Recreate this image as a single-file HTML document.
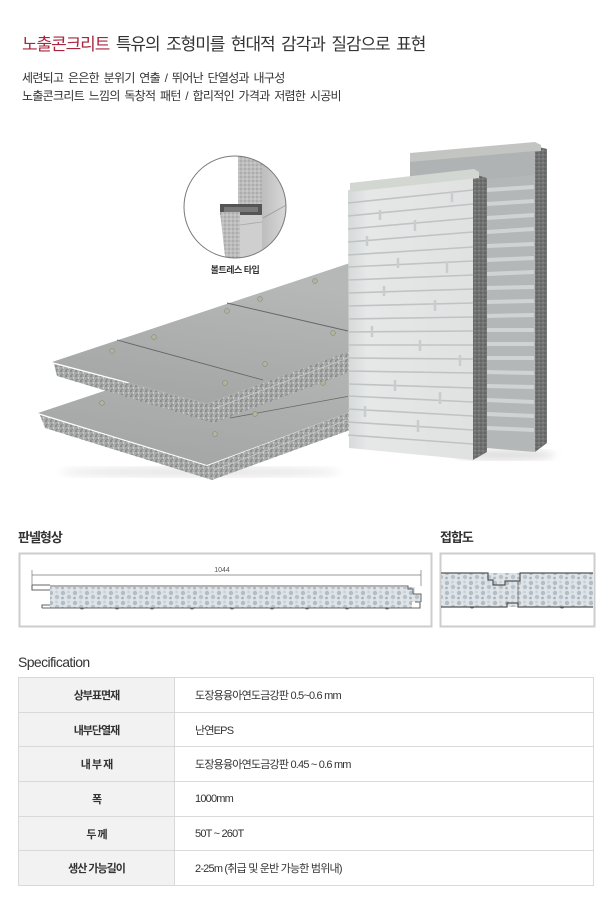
<!DOCTYPE html>
<html><head><meta charset="utf-8">
<style>
*{margin:0;padding:0;box-sizing:border-box}
html,body{width:610px;height:914px;background:#fff;overflow:hidden}
body{position:relative;font-family:"Liberation Sans","Noto Sans CJK KR",sans-serif;color:#333}
.t{position:absolute;white-space:nowrap}
#title{left:22px;top:34px;font-size:17px;line-height:22px;letter-spacing:-1.1px;word-spacing:3px;color:#333}
#title span{color:#a8253e}
.sub{left:22px;font-size:12px;line-height:18px;letter-spacing:-0.7px;word-spacing:2px;color:#333}
.h2{font-size:13px;line-height:16px;letter-spacing:-1px;font-weight:bold;color:#333}
#spec{left:18px;top:653px;font-size:14px;line-height:18px;letter-spacing:-0.6px;color:#333}
table{position:absolute;left:18px;top:677px;width:576px;border-collapse:collapse;font-size:11px;letter-spacing:-0.8px}
td{height:34.7px;border:1px solid #d9d9d9;color:#333}
td.l{width:156px;background:#f2f2f2;text-align:center;font-weight:bold;letter-spacing:-1px}
td.v{padding-left:20px}
svg{position:absolute;left:0;top:0}
</style></head><body>
<svg width="610" height="914" viewBox="0 0 610 914">
<defs>
<pattern id="fm" width="5" height="5" patternUnits="userSpaceOnUse"><rect width="5" height="5" fill="#a8aaaa"/><circle cx="1" cy="1" r="0.8" fill="#6a6d6d"/><circle cx="3.5" cy="3" r="0.7" fill="#dcdede"/><circle cx="2" cy="4.2" r="0.5" fill="#585a5a"/><circle cx="4.2" cy="0.8" r="0.5" fill="#c8caca"/></pattern>
<pattern id="fd" width="4" height="4" patternUnits="userSpaceOnUse"><rect width="4" height="4" fill="#707272"/><circle cx="1" cy="1" r="0.6" fill="#4a4c4c"/><circle cx="3" cy="2.8" r="0.6" fill="#a0a2a2"/></pattern>
<pattern id="fl" width="4" height="4" patternUnits="userSpaceOnUse"><rect width="4" height="4" fill="#bcbcbc"/><circle cx="1" cy="1" r="0.6" fill="#888"/><circle cx="3" cy="3" r="0.6" fill="#e4e4e4"/></pattern>
<pattern id="eps" width="12" height="10" patternUnits="userSpaceOnUse"><rect width="12" height="10" fill="#dfe4e8"/><circle cx="3" cy="3" r="2.2" fill="#b2bdc6"/><circle cx="9" cy="7" r="2.2" fill="#b8c2ca"/><circle cx="8.5" cy="2" r="1.4" fill="#c9d0d6"/><circle cx="2.5" cy="8" r="1.4" fill="#a9b4bd"/></pattern>
<linearGradient id="ts" x1="0" y1="1" x2="0.3" y2="0"><stop offset="0" stop-color="#a2a4a4"/><stop offset="1" stop-color="#b6b8b8"/></linearGradient>
<linearGradient id="mt" x1="0" y1="0" x2="1" y2="0"><stop offset="0" stop-color="#bdbdbd"/><stop offset="1" stop-color="#e2e2e2"/></linearGradient>
<linearGradient id="fp" x1="0" y1="0" x2="1" y2="0"><stop offset="0" stop-color="#d6d9d9"/><stop offset="0.15" stop-color="#e6e8e8"/><stop offset="1" stop-color="#e0e2e2"/></linearGradient>
<clipPath id="cc"><circle cx="235" cy="207" r="51"/></clipPath>
<filter id="bl"><feGaussianBlur stdDeviation="4"/></filter>
</defs>

<!-- shadows -->
<ellipse cx="200" cy="472" rx="140" ry="5" fill="#e6e6e6" filter="url(#bl)"/>
<ellipse cx="505" cy="455" rx="50" ry="5" fill="#dcdcdc" filter="url(#bl)"/>

<!-- lower slab -->
<polygon points="38,413 207,465 350,412 350,309" fill="url(#ts)"/>
<polygon points="40,415 207,466 212,480 45,428" fill="url(#fm)"/>
<polygon points="207,466 350,412 350,430 212,480" fill="url(#fm)"/>
<line x1="214" y1="470" x2="350" y2="419" stroke="#c8caca" stroke-width="0.8"/>
<line x1="230" y1="418" x2="350" y2="396" stroke="#666" stroke-width="0.8"/>
<g fill="#b4b496" stroke="#888" stroke-width="0.6"><circle cx="102" cy="403" r="2.4"/><circle cx="255" cy="414" r="2.4"/><circle cx="215" cy="434" r="2.4"/><circle cx="323" cy="383" r="2.4"/></g>

<!-- top slab -->
<polygon points="52,362 207,403 350,351 350,263" fill="url(#ts)"/>
<polygon points="54,364 207,404 213,423 57,376" fill="url(#fm)"/>
<polygon points="207,404 350,351 350,372 213,423" fill="url(#fm)"/>
<line x1="213" y1="409" x2="350" y2="357" stroke="#c8caca" stroke-width="0.8"/>
<line x1="117" y1="340" x2="263" y2="380" stroke="#666" stroke-width="0.9"/>
<line x1="227" y1="303" x2="348" y2="331" stroke="#666" stroke-width="0.9"/>
<g fill="#b4b496" stroke="#888" stroke-width="0.6"><circle cx="112" cy="351" r="2.4"/><circle cx="154" cy="337" r="2.4"/><circle cx="227" cy="311" r="2.4"/><circle cx="260" cy="299" r="2.4"/><circle cx="315" cy="281" r="2.4"/><circle cx="265" cy="364" r="2.4"/><circle cx="225" cy="383" r="2.4"/><circle cx="333" cy="333" r="2.4"/></g>

<!-- back vertical panel -->
<polygon points="410,157 535,146 535,452 410,442" fill="#b4b7b7"/>
<polygon points="535,146 547,149 547,443 535,452" fill="url(#fd)"/>
<polygon points="410,153 535,142 541,145 541,151 410,162" fill="#c2c5c2"/>
<g stroke="#d0d3d3" stroke-width="4">
<line x1="487" y1="190" x2="534" y2="187"/><line x1="487" y1="204" x2="534" y2="201"/><line x1="487" y1="218" x2="534" y2="215"/><line x1="487" y1="232" x2="534" y2="229"/><line x1="487" y1="246" x2="534" y2="244"/><line x1="487" y1="260" x2="534" y2="258"/><line x1="487" y1="274" x2="534" y2="272"/><line x1="487" y1="288" x2="534" y2="287"/><line x1="487" y1="302" x2="534" y2="301"/><line x1="487" y1="316" x2="534" y2="315"/><line x1="487" y1="330" x2="534" y2="330"/><line x1="487" y1="344" x2="534" y2="344"/><line x1="487" y1="358" x2="534" y2="358"/><line x1="487" y1="372" x2="534" y2="373"/><line x1="487" y1="386" x2="534" y2="387"/><line x1="487" y1="400" x2="534" y2="402"/><line x1="487" y1="414" x2="534" y2="416"/><line x1="487" y1="428" x2="534" y2="430"/>
</g>
<polygon points="410,162 535,151 535,175 410,186" fill="#b0b3b3"/>

<!-- front vertical panel -->
<polygon points="348,190 473,176 473,460 349,448" fill="url(#fp)"/>
<polygon points="473,174 487,178 487,452 473,460" fill="url(#fd)"/>
<polygon points="350,183 474,169 479,172 479,178 350,192" fill="#d3d7d2"/>
<g stroke="#bfc3c3" stroke-width="1.6">
<line x1="348" y1="203" x2="473" y2="190"/><line x1="348" y1="216" x2="473" y2="204"/><line x1="348" y1="229" x2="473" y2="218"/><line x1="348" y1="242" x2="473" y2="232"/><line x1="348" y1="255" x2="473" y2="247"/><line x1="348" y1="267" x2="473" y2="261"/><line x1="348" y1="280" x2="473" y2="275"/><line x1="348" y1="293" x2="473" y2="289"/><line x1="348" y1="306" x2="473" y2="303"/><line x1="348" y1="319" x2="473" y2="317"/><line x1="348" y1="332" x2="473" y2="331"/><line x1="348" y1="345" x2="473" y2="345"/><line x1="348" y1="358" x2="473" y2="359"/><line x1="348" y1="371" x2="473" y2="373"/><line x1="348" y1="384" x2="473" y2="388"/><line x1="348" y1="396" x2="473" y2="402"/><line x1="348" y1="409" x2="473" y2="416"/><line x1="348" y1="422" x2="473" y2="430"/><line x1="348" y1="435" x2="473" y2="444"/>
</g>
<g stroke="#c8cccc" stroke-width="2.5">
<line x1="452" y1="192" x2="452" y2="202"/><line x1="380" y1="210" x2="380" y2="220"/><line x1="415" y1="220" x2="415" y2="231"/><line x1="367" y1="236" x2="367" y2="246"/><line x1="398" y1="258" x2="398" y2="268"/><line x1="447" y1="262" x2="447" y2="273"/><line x1="384" y1="286" x2="384" y2="296"/><line x1="435" y1="300" x2="435" y2="311"/><line x1="372" y1="326" x2="372" y2="337"/><line x1="420" y1="340" x2="420" y2="351"/><line x1="460" y1="355" x2="460" y2="366"/><line x1="395" y1="380" x2="395" y2="391"/><line x1="440" y1="392" x2="440" y2="404"/><line x1="365" y1="406" x2="365" y2="417"/><line x1="418" y1="420" x2="418" y2="432"/></g>

<!-- circle inset -->
<circle cx="235" cy="207" r="51" fill="#fff"/>
<g clip-path="url(#cc)">
<rect x="238" y="150" width="24" height="55" fill="url(#fl)"/>
<polygon points="262,150 295,150 295,265 262,265" fill="url(#mt)"/>
<line x1="263" y1="218" x2="290" y2="203" stroke="#999" stroke-width="0.8"/>
<rect x="240" y="215" width="22" height="50" fill="#cfcfcf"/>
<line x1="240" y1="225" x2="262" y2="222" stroke="#a8a8a8" stroke-width="0.8"/>
<rect x="220" y="204" width="42" height="11" fill="#555"/>
<rect x="224" y="207" width="34" height="5" fill="#7a7a7a"/>
<polygon points="220,212 240,212 240,265 226,265" fill="url(#fl)"/>
</g>
<circle cx="235" cy="207" r="51" fill="none" stroke="#7a7a7a" stroke-width="1"/>
<text x="235" y="273" text-anchor="middle" font-family="Liberation Sans,Noto Sans CJK KR,sans-serif" font-size="9" font-weight="bold" fill="#333" letter-spacing="-0.5">볼트레스 타입</text>

<!-- panel shape box -->
<rect x="19.5" y="553.5" width="412" height="73" fill="#fff" stroke="#cdcdcd" stroke-width="2"/>
<line x1="32" y1="575" x2="421" y2="575" stroke="#777" stroke-width="0.7"/>
<line x1="32" y1="570" x2="32" y2="586" stroke="#777" stroke-width="0.7"/>
<line x1="421" y1="570" x2="421" y2="586" stroke="#777" stroke-width="0.7"/>
<text x="222" y="572" text-anchor="middle" font-family="Liberation Sans,sans-serif" font-size="7" fill="#555">1044</text>
<rect x="50" y="587" width="360" height="21" fill="url(#eps)"/>
<polygon points="410,587 415,587 415,594 421,594 421,602 412,602 412,608 410,608" fill="url(#eps)"/>
<path d="M32,585 H50 M32,585 V590 H50 M50,586 H408 V589 H413 V594 M408,586" stroke="#666" stroke-width="1.1" fill="none"/>
<path d="M42,608 H420 V602 H415 M42,608 V605 H50" stroke="#666" stroke-width="1.1" fill="none"/>
<path d="M413,594 H421 V602" stroke="#666" stroke-width="1" fill="none"/>
<g stroke="#666" stroke-width="1" fill="none"><path d="M80,608 q2,2 4,0"/><path d="M115,608 q2,2 4,0"/><path d="M150,608 q2,2 4,0"/><path d="M190,608 q2,2 4,0"/><path d="M230,608 q2,2 4,0"/><path d="M270,608 q2,2 4,0"/><path d="M305,608 q2,2 4,0"/><path d="M345,608 q2,2 4,0"/><path d="M385,608 q2,2 4,0"/></g>

<!-- joint box -->
<rect x="440.5" y="553.5" width="154" height="73" fill="#fff" stroke="#cdcdcd" stroke-width="2"/>
<rect x="441" y="573" width="152" height="34" fill="url(#eps)"/>
<path d="M441,573 H488 V580 H493 V585 H505 V581 H520 V573 H593" stroke="#555" stroke-width="1.2" fill="none"/>
<path d="M441,607 H507 V603 H518 V607 H593" stroke="#555" stroke-width="1.2" fill="none"/>
<line x1="518" y1="582" x2="518" y2="603" stroke="#777" stroke-width="0.8"/>
<path d="M470,607 q2,2 4,0 M560,607 q2,2 4,0" stroke="#555" stroke-width="1" fill="none"/>
</svg>

<div class="t" id="title"><span>노출콘크리트</span> 특유의 조형미를 현대적 감각과 질감으로 표현</div>
<div class="t sub" style="top:69px">세련되고 은은한 분위기 연출 / 뛰어난 단열성과 내구성</div>
<div class="t sub" style="top:87px">노출콘크리트 느낌의 독창적 패턴 / 합리적인 가격과 저렴한 시공비</div>

<div class="t h2" style="left:18px;top:530px">판넬형상</div>
<div class="t h2" style="left:440px;top:530px">접합도</div>

<div class="t" id="spec">Specification</div>
<table>
<tr><td class="l">상부표면재</td><td class="v">도장용융아연도금강판 0.5~0.6 mm</td></tr>
<tr><td class="l">내부단열재</td><td class="v">난연EPS</td></tr>
<tr><td class="l">내 부 재</td><td class="v">도장용융아연도금강판 0.45 ~ 0.6 mm</td></tr>
<tr><td class="l">폭</td><td class="v">1000mm</td></tr>
<tr><td class="l">두 께</td><td class="v">50T ~ 260T</td></tr>
<tr><td class="l">생산 가능길이</td><td class="v">2-25m (취급 및 운반 가능한 범위내)</td></tr>
</table>
</body></html>
